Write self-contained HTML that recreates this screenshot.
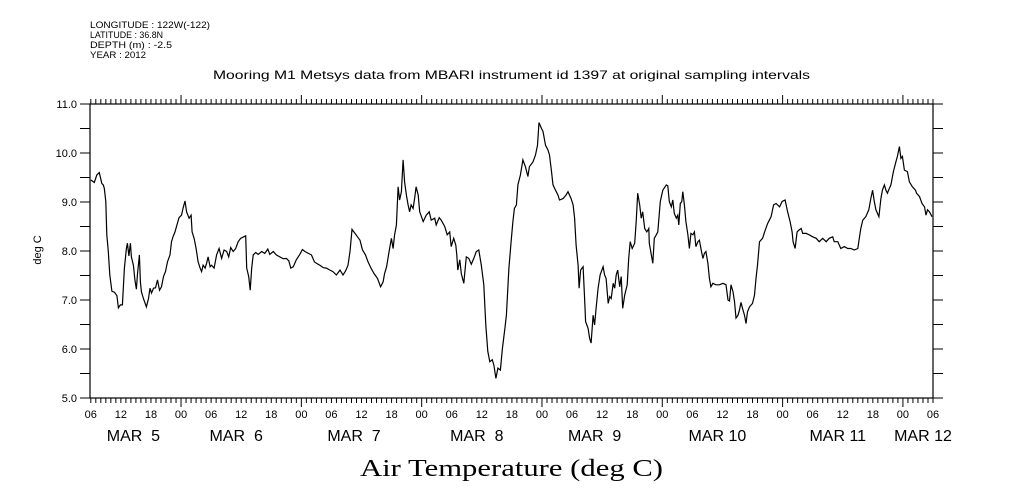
<!DOCTYPE html>
<html><head><meta charset="utf-8"><style>
html,body{margin:0;padding:0;background:#fff;}
svg{display:block;}
text{font-family:"Liberation Sans",sans-serif;fill:#000;}
</style></head><body>
<svg id="chart" width="1009" height="504" viewBox="0 0 1009 504">
<g font-size="9">
<text x="90" y="28" textLength="120" lengthAdjust="spacingAndGlyphs">LONGITUDE : 122W(-122)</text>
<text x="90" y="38" textLength="73" lengthAdjust="spacingAndGlyphs">LATITUDE : 36.8N</text>
<text x="90" y="48" textLength="82" lengthAdjust="spacingAndGlyphs">DEPTH (m) : -2.5</text>
<text x="90" y="58" textLength="56" lengthAdjust="spacingAndGlyphs">YEAR : 2012</text>
</g>
<text x="213" y="79" textLength="597" lengthAdjust="spacingAndGlyphs" font-size="12">Mooring M1 Metsys data from MBARI instrument id 1397 at original sampling intervals</text>
<text x="360" y="476" textLength="303" lengthAdjust="spacingAndGlyphs" font-size="24" style="font-family:'Liberation Serif',serif">Air Temperature (deg C)</text>
<text transform="translate(41,250) rotate(-90)" text-anchor="middle" font-size="11">deg C</text>
<g id="axes"></g>
<path id="line" fill="none" stroke="#000" stroke-width="1.2"/>
</svg>
<script>
const hours=[0,0.7,1.2,1.7,2.2,2.5,2.7,3.0,3.2,3.5,3.8,4.2,4.7,5.2,5.5,5.9,6.3,6.7,7.1,7.3,7.6,7.9,8.1,8.5,8.8,9.1,9.3,9.7,9.9,10.1,10.5,11.1,11.5,11.8,12.1,12.5,12.9,13.3,13.7,14.1,14.5,14.9,15.3,15.8,16.1,16.4,16.8,17.1,17.6,18.1,18.4,18.8,19.1,19.6,20.0,20.2,20.6,21.0,21.4,21.8,22.1,22.4,22.8,23.1,23.4,23.8,24.1,24.6,25.1,25.6,26.1,26.6,27.1,27.5,27.9,28.4,28.9,29.4,29.9,30.5,30.9,31.1,31.5,31.8,32.1,32.4,32.9,33.4,34.1,34.7,35.3,35.7,36.4,37.0,37.7,38.4,39.0,39.5,39.9,40.4,41.0,41.7,42.2,42.7,43.4,44.0,44.6,45.0,45.7,46.4,47.0,47.7,48.3,49.0,49.7,50.3,50.8,51.3,51.7,52.1,52.7,53.2,53.7,54.2,54.8,55.3,55.9,56.5,57.2,57.8,58.3,58.6,
59.0,59.5,59.96,60.3,60.6,60.96,61.3,61.6,61.95,62.3,62.6,62.95,63.3,63.6,63.9,64.3,64.6,64.9,65.3,65.6,66.3,66.9,67.5,67.9,68.6,68.9,69.5,69.9,70.6,71.1,71.6,71.9,72.4,72.8,73.0,73.2,73.6,73.9,74.4,74.9,75.4,75.9,76.4,76.9,77.4,77.9,78.4,78.8,79.2,79.6,80.1,80.4,80.8,81.2,81.7,82.1,82.6,82.9,83.4,83.9,84.2,84.5,84.9,85.2,85.7,86.2,86.7,87.2,87.5,88.2,88.7,89.1,89.4,89.9,90.2,90.7,91.2,91.5,91.9,92.2,92.7,93.2,93.5,94.2,94.8,95.2,95.8,96.2,96.5,96.8,97.2,97.4,97.7,98.2,98.5,98.7,99.2,99.5,99.8,100.2,100.5,100.8,101.2,101.6,102.2,102.5,102.8,103.2,103.5,103.8,104.2,104.5,104.8,105.1,105.5,105.8,106.1,106.5,107.0,107.3,107.6,108.0,108.5,108.8,109.1,109.5,109.8,110.1,110.5,110.9,111.3,
111.4,112.1,112.4,112.8,113.1,113.6,114.1,114.8,115.1,115.4,115.8,116.1,116.4,116.8,117.1,117.3,117.6,117.9,118.1,118.4,118.7,119.1,119.4,119.7,120.1,120.4,120.7,121.1,121.4,121.7,122.1,122.4,122.7,123.1,123.4,123.7,124.1,124.7,125.4,126.1,126.7,127.1,127.4,127.7,128.1,128.4,128.7,129.1,129.4,129.7,130.0,130.4,130.7,131.0,131.4,132.0,132.4,132.7,133.0,133.4,134.0,134.4,135.0,135.7,136.2,136.7,137.4,137.9,138.5,139.0,139.5,139.9,140.1,140.5,140.9,141.3,141.7,142.0,142.7,143.3,144.0,144.7,145.3,146.0,146.7,147.3,148.0,148.3,149.0,149.6,150.3,151.0,151.6,152.3,153.0,153.3,153.6,154.0,154.6,155.2,155.6,155.96,156.3,156.6,157.2,157.6,157.9,158.3,158.6,158.9,159.3,159.6,160.1,160.6,160.9,161.3,161.6,161.9,162.3,162.9,163.3,163.9,164.5,164.7,165.3,165.8,166.3,166.6,166.9,167.3,167.8];
const temps=[9.45,9.40,9.55,9.60,9.38,9.35,9.28,9.01,8.33,7.99,7.51,7.18,7.16,7.09,6.84,6.90,6.90,7.65,8.05,8.16,7.90,8.16,7.88,7.71,7.41,7.22,7.51,7.92,7.37,7.17,7.03,6.86,7.03,7.24,7.14,7.24,7.25,7.41,7.20,7.27,7.48,7.58,7.78,7.92,8.19,8.29,8.39,8.50,8.68,8.73,8.87,9.02,8.80,8.67,8.73,8.39,8.26,8.05,7.78,7.65,7.58,7.71,7.65,7.75,7.88,7.68,7.71,7.65,7.92,8.05,7.85,8.02,7.99,7.88,8.07,7.99,8.05,8.19,8.26,8.29,8.31,7.65,7.48,7.20,7.65,7.92,7.97,7.93,7.99,7.95,8.04,7.93,7.99,7.92,7.88,7.84,7.85,7.80,7.65,7.68,7.82,7.93,8.03,7.99,7.95,7.92,7.78,7.75,7.71,7.66,7.65,7.61,7.58,7.51,7.61,7.51,7.59,7.71,7.99,8.44,8.36,8.29,8.22,8.02,7.92,7.78,7.65,7.54,7.44,7.27,7.37,7.54,
7.68,7.99,8.26,8.05,8.33,8.53,9.31,9.04,9.21,9.86,9.41,9.14,8.94,8.80,8.94,8.87,9.07,9.31,9.14,8.80,8.60,8.73,8.80,8.63,8.67,8.53,8.68,8.63,8.50,8.33,8.39,8.09,8.26,8.12,7.92,7.61,7.82,7.54,7.34,7.88,7.85,7.73,7.85,7.99,8.02,7.71,7.31,6.49,5.95,5.74,5.78,5.67,5.40,5.61,5.57,6.01,6.42,6.69,7.65,8.26,8.60,8.87,8.94,9.35,9.55,9.86,9.72,9.52,9.72,9.82,9.96,10.16,10.62,10.50,10.44,10.16,10.06,9.96,9.62,9.35,9.24,9.14,9.04,9.07,9.14,9.21,9.07,8.94,8.67,8.12,7.71,7.24,7.61,7.68,7.03,6.56,6.42,6.22,6.12,6.69,6.49,6.83,7.24,7.51,7.68,7.51,7.44,6.93,7.07,7.03,7.34,7.24,7.51,7.61,7.27,7.48,6.83,7.10,7.31,7.85,8.19,8.05,8.16,8.60,9.18,8.94,8.67,8.80,8.46,8.39,8.46,
8.16,7.75,8.26,8.33,8.39,9.01,9.24,9.35,9.33,9.01,8.90,9.04,8.77,8.67,8.73,8.53,8.97,9.01,9.21,8.94,8.60,8.33,8.05,8.36,8.33,8.39,8.09,8.19,8.22,8.05,7.85,7.95,7.99,7.75,7.44,7.27,7.34,7.31,7.31,7.34,7.31,7.00,6.98,7.31,7.17,6.97,6.63,6.69,6.80,6.95,6.83,6.69,6.52,6.76,6.86,6.93,7.10,7.44,7.71,8.19,8.26,8.39,8.56,8.70,8.94,8.97,8.90,9.01,9.04,8.80,8.60,8.39,8.19,8.05,8.39,8.43,8.46,8.36,8.36,8.33,8.29,8.26,8.19,8.26,8.19,8.26,8.29,8.19,8.19,8.05,8.09,8.05,8.05,8.02,8.05,8.26,8.46,8.63,8.70,8.84,9.07,9.24,9.01,8.84,8.70,9.07,9.24,9.35,9.24,9.18,9.28,9.35,9.62,9.82,9.93,10.13,9.89,9.93,9.65,9.62,9.41,9.31,9.24,9.18,9.11,8.97,8.90,8.73,8.84,8.80,8.70];
const yTickLabels=["5.0","6.0","7.0","8.0","9.0","10.0","11.0"];
const hourLabels=["06","12","18","00"];
const dayLabels=["MAR  5","MAR  6","MAR  7","MAR  8","MAR  9","MAR 10","MAR 11","MAR 12"];
const dayLabelHours=[8.5,29,52.5,77,100.5,125,149,166];

const X0=90.8,X1=933,Y0=398,Y1=104,H=168,TMIN=5,TMAX=11;
function xs(h){return X0+(X1-X0)*h/H;}
function ys(t){return Y0-(Y0-Y1)*(t-TMIN)/(TMAX-TMIN);}
const NS="http://www.w3.org/2000/svg";
const ax=document.getElementById('axes');
function mk(tag,attrs,parent){const e=document.createElementNS(NS,tag);for(const k in attrs)e.setAttribute(k,attrs[k]);(parent||ax).appendChild(e);return e;}
const frame=mk('rect',{x:90,y:Y1,width:X1-90,height:Y0-Y1,fill:'none',stroke:'#000','stroke-width':1.2});


for(let i=0;i<=12;i++){const t=TMIN+i*0.5,y=ys(t);
 const tl=mk('line',{x1:80,x2:90,y1:y,y2:y,stroke:'#000'});
 
 
 const tr=mk('line',{x1:X1,x2:X1+10,y1:y,y2:y,stroke:'#000'});
 
 
 if(i%2===0){const lb=mk('text',{x:77,y:y+4,'text-anchor':'end','font-size':11});lb.textContent=yTickLabels[i/2];
 
 }
}
for(let h=0;h<=H;h++){const x=xs(h);const clock=(h+6)%24;const len=clock===0?9:5;
 const tb=mk('line',{x1:x,x2:x,y1:Y0,y2:Y0+len,stroke:'#000'});
 
 
 const tt=mk('line',{x1:x,x2:x,y1:Y1,y2:Y1-len,stroke:'#000'});
 
 
 if(h%6===0){const lb=mk('text',{x:x,y:418,'text-anchor':'middle','font-size':11});lb.textContent=hourLabels[(h/6)%4];
 
 }
}
dayLabels.forEach((d,i)=>{const lb=mk('text',{x:xs(dayLabelHours[i]),y:441,'text-anchor':'middle','font-size':16});
 lb.setAttribute('xml:space','preserve');lb.style.whiteSpace='pre';lb.textContent=d;
 
 });
let d='';hours.forEach((h,i)=>{d+=(i?'L':'M')+xs(h).toFixed(1)+' '+ys(temps[i]).toFixed(1);});
document.getElementById('line').setAttribute('d',d);
</script>
</body></html>
